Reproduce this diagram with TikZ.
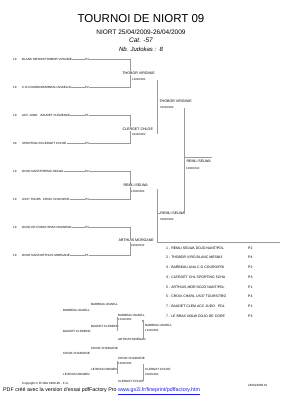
\documentclass[tikz,border=0pt]{standalone}
\usepackage{fontspec}
\setmainfont{Liberation Sans}
\usepackage{xcolor}
\usepackage{tikz}
\usetikzlibrary{positioning,calc}
\definecolor{lngray}{HTML}{9A9A9A}
\definecolor{linkblue}{HTML}{1A1AE6}
\newcommand{\fsz}[1]{\fontsize{#1}{#1}\selectfont}

\begin{document}
\begin{tikzpicture}[x=1pt,y=-1pt,inner sep=0pt]
        \tikzstyle{ent}=[anchor=west,font=\fsz{3}]
        \tikzstyle{win}=[anchor=west,fill=white,inner sep=0.3pt,font=\fsz{3.6}]
        \tikzstyle{sc}=[anchor=west,font=\fsz{2.8}]
        \tikzstyle{res}=[anchor=west,font=\fsz{3.5}]
        \tikzstyle{rep}=[anchor=west,font=\fsz{3}]
        \tikzstyle{ln}=[draw=lngray,line width=0.35pt]
        \useasboundingbox (0,0) rectangle (283,400);
        % header
        \node (title) at (141,19) {\fsz{11.5}TOURNOI DE NIORT 09};
        \node (place) at (141,32) {\fsz{6.5}NIORT 25/04/2009-26/04/2009};
        \node (cat) at (141,40.5) {\fsz{6.5}\itshape Cat. -57};
        \node (nbj) at (141,49) {\fsz{6}\itshape Nb. Judokas :~~8};
        % first round
        \node[ent] (n1) at (13,59) {10};
        \node[ent] (e1) at (22,59) {BLANC MESNI3/THOBOR VIRGINIE};
        \node[ent] (p1) at (85,59) {P4};
        \node[ent] (n2) at (13,87) {10};
        \node[ent] (e2) at (22,87) {C.O.COURON/BARBEAU ANAELLE};
        \node[ent] (p2) at (85,87) {P2};
        \node[ent] (n3) at (13,115) {10};
        \node[ent] (e3) at (22,115) {ACC JUDO\hspace{3pt}BAUDET CLEMENCE};
        \node[ent] (p3) at (85,115) {P1};
        \node[ent] (n4) at (13,143) {20};
        \node[ent] (e4) at (22,143) {SPORTING 5/CLERGET CHLOE};
        \node[ent] (p4) at (85,143) {P3};
        \node[ent] (n5) at (13,171) {10};
        \node[ent] (e5) at (22,171) {DOJO NANT/P/REMLI SELWA};
        \node[ent] (p5) at (85,171) {P2};
        \node[ent] (n6) at (13,199) {10};
        \node[ent] (e6) at (22,199) {US37 TOURS\hspace{2pt}CROIX CHARLENE};
        \node[ent] (p6) at (85,199) {P4};
        \node[ent] (n7) at (13,227) {10};
        \node[ent] (e7) at (22,227) {DOJO DE CORLE BRAS NOLWENN};
        \node[ent] (p7) at (85,227) {P3};
        \node[ent] (n8) at (13,255) {10};
        \node[ent] (e8) at (22,255) {DOJO NANT/ARTHUIS MORGANE};
        \node[ent] (p8) at (85,255) {P1};
        \coordinate (j1) at (130,59);
        \coordinate (j2) at (130,87);
        \coordinate (j3) at (130,115);
        \coordinate (j4) at (130,143);
        \coordinate (j5) at (130,171);
        \coordinate (j6) at (130,199);
        \coordinate (j7) at (130,227);
        \coordinate (j8) at (130,255);
        \draw[ln] (e1.east) -- (p1.west);
        \draw[ln] (e2.east) -- (p2.west);
        \draw[ln] (e3.east) -- (p3.west);
        \draw[ln] (e4.east) -- (p4.west);
        \draw[ln] (e5.east) -- (p5.west);
        \draw[ln] (e6.east) -- (p6.west);
        \draw[ln] (e7.east) -- (p7.west);
        \draw[ln] (e8.east) -- (p8.west);
        \draw[ln] (p1.east) -- (j1) -- (j2) -- (p2.east);
        \draw[ln] (p3.east) -- (j3) -- (j4) -- (p4.east);
        \draw[ln] (p5.east) -- (j5) -- (j6) -- (p6.east);
        \draw[ln] (p7.east) -- (j7) -- (j8) -- (p8.east);
        % second round
        \node[win] (w1) at (122,73) {THOBOR VIRGINIE};
        \node[sc] (s1) at (132,79) {1020\textbackslash 0000};
        \node[win] (w2) at (122,129) {CLERGET CHLOE};
        \node[sc] (s2) at (132,134) {0010\textbackslash 0000};
        \node[win] (w3) at (123,185.5) {REMLI SELWA};
        \node[sc] (s3) at (131,191) {1000\textbackslash 0000};
        \node[win] (w4) at (118,240.5) {ARTHUIS MORGANE};
        \node[sc] (s4) at (131,245.5) {0020\textbackslash 0010};
        \coordinate (k1) at (157,80);
        \coordinate (k2) at (157,134);
        \coordinate (k3) at (157,189);
        \coordinate (k4) at (157,242);
        \draw[ln] (k1) -- (k2);
        \draw[ln] (k3) -- (k4);
        % third round and final
        \node[win] (w5) at (159,101) {THOBOR VIRGINIE};
        \node[sc] (s5) at (160,107) {0010\textbackslash 0000};
        \node[win] (w6) at (160,213) {REMLI SELWA};
        \node[sc] (s6) at (160,219) {0200\textbackslash 0000};
        \coordinate (m1) at (184,108);
        \coordinate (m2) at (184,213);
        \draw[ln] (m1) -- (m2);
        \draw[ln] (k3 |- w6.west) -- (w6.west);
        \coordinate (f1) at (184,157.5);
        \coordinate (f2) at (212,157.5);
        \draw[ln] (f1) -- (f2);
        \node[win] (fin) at (186,161) {REMLI SELWA};
        \node[sc] (fsc) at (186,168) {1000\textbackslash 0010};
        % result list
        \coordinate (t2) at (280,242);
        \draw[ln] (k4) -- (t2);
        \node[res] (r1) at (166,248) {1 - REMLI SELWA DOJO NANT/PDL};
        \node[res] (r2) at (166,257.7) {2 - THOBOR VIRG BLANC MESNI3};
        \node[res] (r3) at (166,267.4) {3 - BARBEAU ANA C.O.COURO/POI};
        \node[res] (r4) at (166,277.1) {3 - CLERGET CHL SPORTING 5CHA};
        \node[res] (r5) at (166,286.8) {5 - ARTHUIS MOR DOJO NANT/PDL};
        \node[res] (r6) at (166,296.5) {5 - CROIX CHARL US37 TOURS/TBO};
        \node[res] (r7) at (166,306.2) {7 - BAUDET CLEM ACC JUDO\hspace{3pt}PDL};
        \node[res] (r8) at (166,315.9) {7 - LE BRAS NOLW DOJO DE CORE};
        \node[res] (q1) at (248,248) {P2};
        \node[res] (q2) at (248,257.7) {P4};
        \node[res] (q3) at (248,267.4) {P2};
        \node[res] (q4) at (248,277.1) {P3};
        \node[res] (q5) at (248,286.8) {P1};
        \node[res] (q6) at (248,296.5) {P4};
        \node[res] (q7) at (248,306.2) {P1};
        \node[res] (q8) at (248,315.9) {P3};
        % repechage
        \node[rep] (a1) at (91,304) {BARBEAU ANAELL};
        \node[rep] (a2) at (63,310) {BARBEAU ANAELL};
        \node[rep] (a3) at (118,315) {BARBEAU ANAELL};
        \node[sc] (a3s) at (118,319.5) {1010\textbackslash 0000};
        \node[rep] (bmk) at (142,321) {B};
        \node[rep] (a4) at (91,326) {BAUDET CLEMENC};
        \node[rep] (a5) at (63,331) {BAUDET CLEMENC};
        \node[rep] (a6) at (145,325) {BARBEAU ANAELL};
        \node[sc] (a6s) at (145,330) {1010\textbackslash 0000};
        \node[rep] (a7) at (118,339) {ARTHUIS MORGAN};
        \node[rep] (c1) at (91,348) {CROIX CHARLENE};
        \node[rep] (c2) at (63,353.5) {CROIX CHARLENE};
        \node[rep] (c3) at (118,358.5) {CROIX CHARLENE};
        \node[sc] (c3s) at (118,363) {1000\textbackslash 0000};
        \node[rep] (c4) at (91,369) {LE BRAS NOLWEN};
        \node[rep] (c5) at (63,374) {LE BRAS NOLWEN};
        \node[rep] (c6) at (145,369) {CLERGET CHLOE};
        \node[sc] (c6s) at (145,374) {0020\textbackslash 0000};
        \node[rep] (c7) at (118,381) {CLERGET CHLOE};
        \coordinate (v1) at (117,317);
        \coordinate (v2) at (117,331);
        \coordinate (v3) at (143,322);
        \coordinate (v4) at (143,339);
        \coordinate (v5) at (117,361);
        \coordinate (v6) at (117,374);
        \coordinate (v7) at (143,364);
        \coordinate (v8) at (143,381);
        \draw[ln] (v1) -- (v2);
        \draw[ln] (v3) -- (v4);
        \draw[ln] (v5) -- (v6);
        \draw[ln] (v7) -- (v8);
        % footer
        \node[rep] (copy) at (22,384) {Copyright \textcopyright\ FFJDA 1986-95 - F.J.I.};
        \node[rep] (date) at (248,385) {26/04/2009 15};
        \node[anchor=west,font=\fsz{5.3}] (pdf) at (3,391.5) {PDF créé avec la version d'essai pdfFactory Pro \textcolor{linkblue}{\underline{www.gs2i.fr/fineprint/pdffactory.htm}}};
      \end{tikzpicture}
\end{document}
